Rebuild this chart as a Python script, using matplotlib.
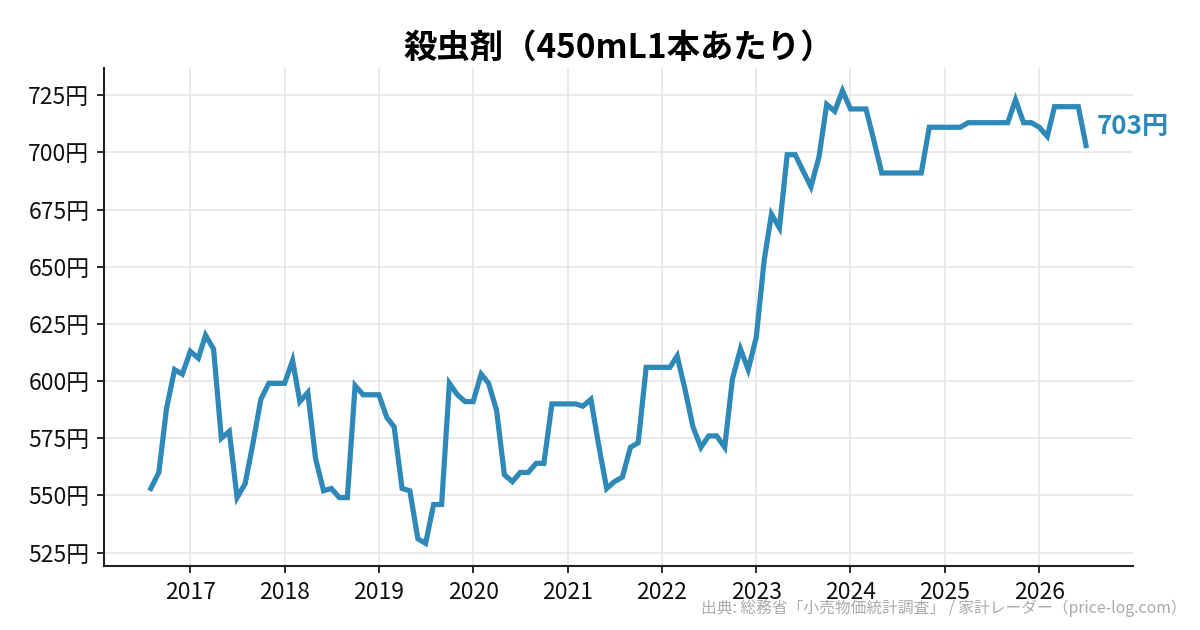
import pandas as pd
import matplotlib.pyplot as plt
import matplotlib.dates as mdates
from matplotlib.ticker import FuncFormatter

plt.rcParams["font.family"] = ["Noto Sans CJK JP", "DejaVu Sans"]

# monthly average price, Aug 2016 .. Jul 2026
start_month = "2016-08-01"
prices = [
    553, 560, 588, 605, 603,                                  # 2016 Aug-Dec
    613, 610, 620, 614, 575, 578, 549, 555, 573, 592, 599, 599,  # 2017
    599, 609, 591, 595, 566, 552, 553, 549, 549, 598, 594, 594,  # 2018
    594, 584, 580, 553, 552, 531, 529, 546, 546, 599, 594, 591,  # 2019
    591, 603, 599, 587, 559, 556, 560, 560, 564, 564, 590, 590,  # 2020
    590, 590, 589, 592, 572, 553, 556, 558, 571, 573, 606, 606,  # 2021
    606, 606, 611, 596, 580, 571, 576, 576, 571, 601, 614, 605,  # 2022
    619, 653, 673, 667, 699, 699, 692, 685, 698, 721, 718, 727,  # 2023
    719, 719, 719, 705, 691, 691, 691, 691, 691, 691, 711, 711,  # 2024
    711, 711, 711, 713, 713, 713, 713, 713, 713, 723, 713, 713,  # 2025
    711, 707, 720, 720, 720, 720, 703,                        # 2026 Jan-Jul
]
title = "殺虫剤（450mL1本あたり）"
source = "出典: 総務省「小売物価統計調査」 / 家計レーダー（price-log.com）"
color = "#2e88b8"

dates = pd.date_range(start_month, periods=len(prices), freq="MS")

fig = plt.figure(figsize=(8, 4.2), dpi=150)
ax = fig.add_axes([0.0867, 0.1016, 0.8573, 0.7904])

ax.plot(dates, prices, color=color, linewidth=2.5, solid_joinstyle="miter")

ax.xaxis.set_major_locator(mdates.YearLocator())
ax.xaxis.set_major_formatter(mdates.DateFormatter("%Y"))
ax.yaxis.set_major_formatter(FuncFormatter(lambda v, p: f"{int(v)}円"))
ax.set_yticks(range(525, 726, 25))

ax.grid(True, color="#e6e6e6", linewidth=0.8)
ax.set_axisbelow(True)
for side in ["top", "right"]:
    ax.spines[side].set_visible(False)
for side in ["left", "bottom"]:
    ax.spines[side].set_color("#222222")
    ax.spines[side].set_linewidth(1.0)
ax.tick_params(labelsize=11, colors="#222222", length=3.5, width=0.9)
ax.tick_params(labelcolor="#111111")

ax.set_title(title, fontsize=16, fontweight="bold", pad=5)

ax.annotate(f"{prices[-1]}円", xy=(dates[-1], prices[-1]), xytext=(5, 9),
            textcoords="offset points", ha="left", va="center",
            fontsize=12.5, fontweight="bold", color=color,
            annotation_clip=False)

fig.text(0.989, 0.035, source, ha="right", va="center", fontsize=7.55, color="#aaaaaa")

fig.savefig("out.png", dpi=150)
